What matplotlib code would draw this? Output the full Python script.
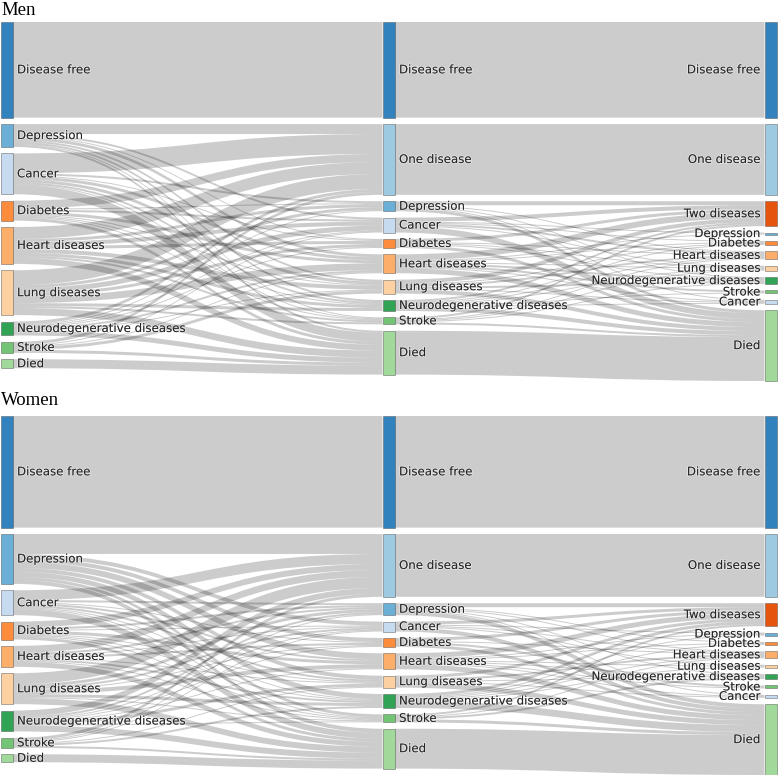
import matplotlib.pyplot as plt
from matplotlib.path import Path
from matplotlib.patches import PathPatch, Rectangle
import matplotlib.patheffects as pe

diseases = ["Depression", "Cancer", "Diabetes", "Heart diseases", "Lung diseases",
            "Neurodegenerative diseases", "Stroke"]
third_order = ["Depression", "Diabetes", "Heart diseases", "Lung diseases",
               "Neurodegenerative diseases", "Stroke", "Cancer"]

col0_nodes = ["Disease free"] + diseases + ["Died"]
col1_nodes = ["Disease free", "One disease"] + diseases + ["Died"]
col2_nodes = ["Disease free", "One disease", "Two diseases"] + third_order + ["Died"]

# Men (units of ~0.3% of the cohort)
men_free = 96
men_died_start = 9
men_stay1 = [10, 20, 8, 12, 15, 3, 3]
men_died1 = [2, 9, 3, 6, 7, 5, 3]
men_new1 = [[0, 2, 1, 3, 2, 2, 1],
            [2, 0, 1, 3, 3, 2, 1],
            [1, 2, 0, 3, 1, 1, 1],
            [3, 4, 3, 0, 4, 3, 2],
            [3, 5, 3, 7, 0, 3, 2],
            [1, 1, 1, 2, 1, 0, 0],
            [0, 1, 0, 1, 3, 0, 0]]
men_two2 = [4, 4, 3, 6, 4, 2, 2]
men_died2 = [3, 6, 3, 5, 4, 4, 2]
men_new2 = [[0, 0, 1, 0, 1, 0, 1],
            [1, 1, 2, 1, 0, 0, 0],
            [0, 0, 1, 1, 1, 0, 0],
            [1, 1, 0, 1, 2, 2, 1],
            [0, 1, 2, 0, 2, 0, 1],
            [0, 1, 1, 1, 0, 1, 1],
            [0, 0, 1, 1, 1, 0, 0]]

# Women
women_free = 112
women_died_start = 8
women_stay1 = [20, 10, 6, 7, 11, 6, 3]
women_died1 = [4, 6, 3, 5, 6, 6, 2]
women_new1 = [[0, 4, 4, 6, 4, 5, 3],
              [2, 0, 1, 2, 2, 1, 1],
              [2, 1, 0, 3, 1, 1, 1],
              [2, 1, 2, 0, 1, 2, 1],
              [3, 2, 1, 4, 0, 3, 1],
              [2, 1, 1, 1, 3, 0, 1],
              [1, 1, 0, 0, 1, 2, 0]]
women_two2 = [4, 3, 3, 5, 3, 3, 2]
women_died2 = [4, 4, 3, 5, 5, 7, 3]
women_new2 = [[0, 1, 1, 0, 1, 0, 1],
              [1, 0, 1, 1, 0, 0, 0],
              [0, 0, 1, 0, 0, 2, 0],
              [1, 1, 0, 1, 1, 1, 1],
              [0, 0, 2, 0, 1, 0, 1],
              [1, 1, 1, 1, 0, 0, 0],
              [0, 0, 1, 0, 2, 0, 0]]

colors = {"Disease free": "#3182bd", "One disease": "#9ecae1", "Two diseases": "#e6550d",
          "Depression": "#6baed6", "Cancer": "#c6dbef", "Diabetes": "#fd8d3c",
          "Heart diseases": "#fdae6b", "Lung diseases": "#fdd0a2",
          "Neurodegenerative diseases": "#31a354", "Stroke": "#74c476", "Died": "#a1d99b"}


def build_links(free, died_start, stay1, died1, new1, two2, died2, new2):
    links = [((0, "Disease free"), (1, "Disease free"), free),
             ((0, "Died"), (1, "Died"), died_start)]
    for i, d in enumerate(diseases):
        links.append(((0, d), (1, "One disease"), stay1[i]))
        links.append(((0, d), (1, "Died"), died1[i]))
        for j, d2 in enumerate(diseases):
            if new1[i][j]:
                links.append(((0, d), (1, d2), new1[i][j]))
    links.append(((1, "Disease free"), (2, "Disease free"), free))
    links.append(((1, "One disease"), (2, "One disease"), sum(stay1)))
    links.append(((1, "Died"), (2, "Died"), died_start + sum(died1)))
    for i, d in enumerate(diseases):
        links.append(((1, d), (2, "Two diseases"), two2[i]))
        links.append(((1, d), (2, "Died"), died2[i]))
        for j, d3 in enumerate(third_order):
            if new2[i][j]:
                links.append(((1, d), (2, d3), new2[i][j]))
    return links


def draw_sankey(ax, top, height, links, title, title_y):
    columns = [col0_nodes, col1_nodes, col2_nodes]
    col_x = [0.5, 382.5, 764.5]
    width = 12.5
    pad = 6.4
    vin, vout = {}, {}
    for s, t, v in links:
        vout[s] = vout.get(s, 0) + v
        vin[t] = vin.get(t, 0) + v
    value = {}
    for c, names in enumerate(columns):
        for n in names:
            value[(c, n)] = max(vin.get((c, n), 0), vout.get((c, n), 0))
    ky = min((height - (len(names) - 1) * pad) / sum(value[(c, n)] for n in names)
             for c, names in enumerate(columns))

    y0 = {}
    for c, names in enumerate(columns):
        y = top
        for n in names:
            y0[(c, n)] = y
            y += value[(c, n)] * ky + pad

    # stack links at each node, ordered by position of the other end
    src_off, tgt_off = {}, {}
    for key in value:
        outs = sorted([l for l in links if l[0] == key], key=lambda l: y0[l[1]])
        y = y0[key]
        for l in outs:
            src_off[id(l)] = y
            y += l[2] * ky
        ins = sorted([l for l in links if l[1] == key], key=lambda l: y0[l[0]])
        y = y0[key]
        for l in ins:
            tgt_off[id(l)] = y
            y += l[2] * ky

    for l in links:
        s, t, v = l
        xa = col_x[s[0]] + width
        xb = col_x[t[0]]
        xm = (xa + xb) / 2
        sa = src_off[id(l)]
        ta = tgt_off[id(l)]
        h = v * ky
        verts = [(xa, sa), (xm, sa), (xm, ta), (xb, ta),
                 (xb, ta + h), (xm, ta + h), (xm, sa + h), (xa, sa + h), (xa, sa)]
        codes = [Path.MOVETO, Path.CURVE4, Path.CURVE4, Path.CURVE4,
                 Path.LINETO, Path.CURVE4, Path.CURVE4, Path.CURVE4, Path.CLOSEPOLY]
        ax.add_patch(PathPatch(Path(verts, codes), facecolor=(0, 0, 0, 0.2),
                               edgecolor="none", zorder=1))

    for c, names in enumerate(columns):
        for n in names:
            h = value[(c, n)] * ky
            ax.add_patch(Rectangle((col_x[c], y0[(c, n)]), width, h,
                                   facecolor=colors[n], edgecolor=(0.27, 0.27, 0.27, 0.5),
                                   linewidth=0.6, zorder=2))
            yc = y0[(c, n)] + h / 2
            if c < 2:
                tx, ha = col_x[c] + width + 4, "left"
            else:
                tx, ha = col_x[c] - 4, "right"
            ax.text(tx, yc, n, ha=ha, va="center", fontsize=8.5, color="#262626",
                    family="DejaVu Sans", zorder=3,
                    path_effects=[pe.withStroke(linewidth=1.2, foreground=(1, 1, 1, 0.5))])

    ax.text(1, title_y, title, ha="left", va="baseline", fontsize=13.5,
            family="Liberation Serif", color="black")


fig = plt.figure(figsize=(7.8, 7.75), dpi=100)
ax = fig.add_axes([0, 0, 1, 1])
ax.set_xlim(0, 780)
ax.set_ylim(775, 0)
ax.axis("off")

men_links = build_links(men_free, men_died_start, men_stay1, men_died1, men_new1,
                        men_two2, men_died2, men_new2)
women_links = build_links(women_free, women_died_start, women_stay1, women_died1, women_new1,
                          women_two2, women_died2, women_new2)

draw_sankey(ax, 22, 359, men_links, "Men", 15)
draw_sankey(ax, 416, 359, women_links, "Women", 405)

fig.savefig("out.png", dpi=100)
